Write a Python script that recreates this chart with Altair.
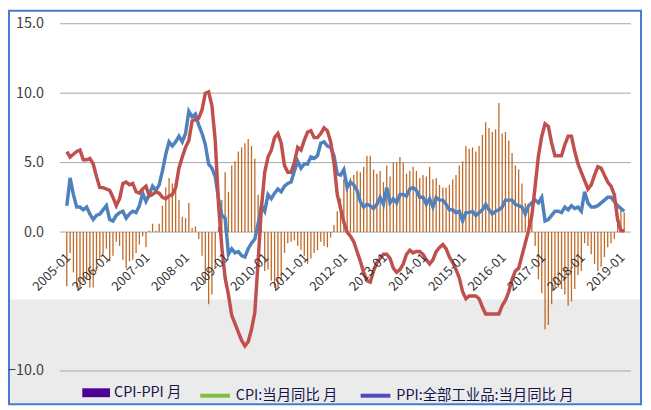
import json
import altair as alt
import pandas as pd

FONT = "Noto Sans CJK SC"

# ---- data (monthly, 2005-01 .. 2019-02) ----
month_labels = [f"{y}-{m:02d}" for y in range(2005, 2020) for m in range(1, 13)][:170]
tick_labels = [f"{y}-01" for y in range(2005, 2020)]

cpi = [1.9, 3.9, 2.7, 1.8, 1.8, 1.6, 1.8, 1.3, 0.9, 1.2, 1.3, 1.6,
       1.9, 0.9, 0.8, 1.2, 1.4, 1.5, 1.0, 1.3, 1.5, 1.4, 1.9, 2.8,
       2.2, 2.7, 3.3, 3.0, 3.4, 4.4, 5.6, 6.5, 6.2, 6.5, 6.9, 6.5,
       7.1, 8.7, 8.3, 8.5, 7.7, 7.1, 6.3, 4.9, 4.6, 4.0, 2.4, 1.2,
       1.0, -1.6, -1.2, -1.5, -1.4, -1.7, -1.8, -1.2, -0.8, -0.5, 0.6, 1.9,
       1.5, 2.7, 2.4, 2.8, 3.1, 2.9, 3.3, 3.5, 3.6, 4.4, 5.1, 4.6,
       4.9, 4.9, 5.4, 5.3, 5.5, 6.4, 6.5, 6.2, 6.1, 5.5, 4.2, 4.1,
       4.5, 3.2, 3.6, 3.4, 3.0, 2.2, 1.8, 2.0, 1.9, 1.7, 2.0, 2.5,
       2.0, 3.2, 2.1, 2.4, 2.1, 2.7, 2.7, 2.6, 3.1, 3.2, 3.0, 2.5,
       2.5, 2.0, 2.4, 1.8, 2.5, 2.3, 2.3, 2.0, 1.6, 1.6, 1.4, 1.5,
       0.8, 1.4, 1.4, 1.5, 1.2, 1.4, 1.6, 2.0, 1.6, 1.3, 1.5, 1.6,
       1.8, 2.3, 2.3, 2.3, 2.0, 1.9, 1.8, 1.3, 1.9, 2.1, 2.3, 2.1,
       2.5, 0.8, 0.9, 1.2, 1.5, 1.5, 1.4, 1.8, 1.6, 1.9, 1.7, 1.8,
       1.5, 2.9, 2.1, 1.8, 1.8, 1.9, 2.1, 2.3, 2.5, 2.5, 2.2, 1.9,
       1.7, 1.5]

ppi = [5.8, 5.4, 5.6, 5.8, 5.9, 5.2, 5.2, 5.3, 4.9, 4.0, 3.2, 3.2,
       3.1, 3.0, 2.5, 1.9, 2.4, 3.5, 3.6, 3.4, 3.5, 2.9, 2.8, 3.1,
       3.3, 2.6, 2.7, 2.9, 2.8, 2.5, 2.4, 2.6, 2.7, 3.2, 4.6, 5.4,
       6.1, 6.6, 8.0, 8.1, 8.2, 8.8, 10.0, 10.1, 9.1, 6.6, 2.0, -1.1,
       -3.3, -4.5, -6.0, -6.6, -7.2, -7.8, -8.2, -7.9, -7.0, -5.8, -2.1, 1.7,
       4.3, 5.4, 5.9, 6.8, 7.1, 6.4, 4.8, 4.3, 4.3, 5.0, 6.1, 5.9,
       6.6, 7.2, 7.3, 6.8, 6.8, 7.1, 7.5, 7.3, 6.5, 5.0, 2.7, 1.7,
       0.7, 0.0, -0.3, -0.7, -1.4, -2.1, -2.9, -3.5, -3.6, -2.8, -2.2, -1.9,
       -1.6, -1.6, -1.9, -2.6, -2.9, -2.7, -2.3, -1.6, -1.3, -1.5, -1.4, -1.4,
       -1.6, -2.0, -2.3, -2.0, -1.4, -1.1, -0.9, -1.2, -1.8, -2.2, -2.7, -3.3,
       -4.3, -4.8, -4.6, -4.6, -4.6, -4.8, -5.4, -5.9, -5.9, -5.9, -5.9, -5.9,
       -5.3, -4.9, -4.3, -3.4, -2.8, -2.6, -1.7, -0.8, 0.1, 1.2, 3.3, 5.5,
       6.9, 7.8, 7.6, 6.4, 5.5, 5.5, 5.5, 6.3, 6.9, 6.9, 5.8, 4.9,
       4.3, 3.7, 3.1, 3.4, 4.1, 4.7, 4.6, 4.1, 3.6, 3.3, 2.7, 0.9,
       0.1, 0.1]

spread = [-3.9, -1.5, -2.9, -4.0, -4.1, -3.6, -3.4, -4.0, -4.0, -2.8, -1.9, -1.6,
          -1.2, -2.1, -1.7, -0.7, -1.0, -2.0, -2.6, -2.1, -2.0, -1.5, -0.9, -0.3,
          -1.1, 0.1, 0.6, 0.1, 0.6, 1.9, 3.2, 3.9, 3.5, 3.3, 2.3, 1.1,
          1.0, 2.1, 0.3, 0.4, -0.5, -1.7, -3.7, -5.2, -4.5, -2.6, 0.4, 2.3,
          4.3, 2.9, 4.8, 5.1, 5.8, 6.1, 6.4, 6.7, 6.2, 5.3, 2.7, 0.2,
          -2.8, -2.7, -3.5, -4.0, -4.0, -3.5, -1.5, -0.8, -0.7, -0.6, -1.0, -1.3,
          -1.7, -2.3, -1.9, -1.5, -1.3, -0.7, -1.0, -1.1, -0.4, 0.5, 1.5, 2.4,
          3.8, 3.2, 3.9, 4.1, 4.4, 4.3, 4.7, 5.5, 5.5, 4.5, 4.2, 4.4,
          3.6, 4.8, 4.0, 5.0, 5.0, 5.4, 5.0, 4.2, 4.4, 4.7, 4.4, 3.9,
          4.1, 4.0, 4.7, 3.8, 3.9, 3.4, 3.2, 3.2, 3.4, 3.8, 4.1, 4.8,
          5.1, 6.2, 6.0, 6.1, 5.8, 6.2, 7.0, 7.9, 7.5, 7.2, 7.4, 9.3,
          7.1, 7.2, 6.6, 5.7, 4.8, 4.5, 3.5, 2.1, 1.8, 0.9, -1.0, -3.4,
          -4.4, -7.0, -6.7, -5.2, -4.0, -4.0, -4.1, -4.5, -5.3, -5.0, -4.1, -3.1,
          -2.8, -0.8, -1.0, -1.6, -2.3, -2.8, -2.5, -1.8, -1.1, -0.8, -0.5, 1.0,
          1.6, 1.4]

y_ticks = [15, 10, 5, 0, -10]
legend_labels = ["CPI-PPI 月", "CPI:当月同比 月", "PPI:全部工业品:当月同比 月"]

df = pd.DataFrame({"i": list(range(len(month_labels))), "month": month_labels,
                   "cpi": cpi, "ppi": ppi, "spread": spread})

W, H = 576, 350.5

xscale = alt.Scale(domain=[-0.5, len(month_labels) - 0.5], nice=False, zero=False)
yscale = alt.Scale(domain=[-10, 15], nice=False, zero=False)

x_enc = alt.X("i:Q", scale=xscale, title=None,
              axis=alt.Axis(values=list(range(0, len(month_labels), 12)),
                            labelExpr=json.dumps(tick_labels) + "[round(datum.value / 12)]",
                            labelAngle=-45, offset=-140.2, domain=False, ticks=False,
                            grid=False, labelOverlap=False, labelFont=FONT,
                            labelFontSize=13, labelColor="#333333", labelPadding=19,
                            labelOffset=-3, zindex=1))

def yenc(field):
    return alt.Y(field, scale=yscale, title=None,
                 axis=alt.Axis(values=y_ticks, format=".1f", grid=False, domain=False,
                               ticks=False, labelPadding=17, labelFont=FONT,
                               labelFontSize=14.5, labelColor="#404040", zindex=1))

base = alt.Chart(df)

band = alt.Chart(pd.DataFrame({"top": [-4.85]})).mark_rect(color="#ebebeb").encode(
    x=alt.value(-51), x2=alt.value(W + 10), y=yenc("top:Q"), y2=alt.value(H + 33))

grid = alt.Chart(pd.DataFrame({"v": y_ticks})).mark_rule(color="#a6a6a6", strokeWidth=1).encode(
    y=yenc("v:Q"))

bars = base.mark_bar(color="#bf6a28", size=1.3).encode(x=x_enc, y=yenc("spread:Q"), y2=alt.datum(0))

cpi_line = base.mark_line(color="#4f81bd", strokeWidth=3.5).encode(x=x_enc, y=yenc("cpi:Q"))
ppi_line = base.mark_line(color="#c0504d", strokeWidth=3.5).encode(x=x_enc, y=yenc("ppi:Q"))

leg_a = alt.Chart(pd.DataFrame({"s": legend_labels[:1]})).mark_rect().encode(
    x=alt.value(0), x2=alt.value(0), y=alt.value(0), y2=alt.value(0),
    fill=alt.Fill("s:N", scale=alt.Scale(domain=legend_labels[:1], range=["#4b0096"]),
                  legend=alt.Legend(orient="none", legendX=22.3, legendY=358.5, title=None,
                                    symbolType="M-1,-0.32H1V0.32H-1Z", symbolSize=784,
                                    symbolStrokeWidth=0, symbolOpacity=1,
                                    labelFont=FONT, labelFontSize=14.5, labelLimit=400,
                                    labelColor="#14144a", labelOffset=4)))

leg_b = alt.Chart(pd.DataFrame({"s": legend_labels[1:]})).mark_rule().encode(
    x=alt.value(0), x2=alt.value(0), y=alt.value(0), y2=alt.value(0),
    stroke=alt.Stroke("s:N", scale=alt.Scale(domain=legend_labels[1:], range=["#7dc142", "#4b4bc6"]),
                      legend=alt.Legend(orient="none", direction="horizontal", legendX=139.3,
                                        legendY=358.5, title=None, symbolType="stroke",
                                        symbolSize=900, symbolStrokeWidth=4, symbolOpacity=1,
                                        columnPadding=15, labelFont=FONT, labelFontSize=14.5,
                                        labelLimit=400, labelColor="#14144a", labelOffset=4)))

frame = alt.Chart(pd.DataFrame({"a": [0]})).mark_rect(
    color="#ffffff", fillOpacity=0, stroke="#4a7bd0", strokeWidth=2).encode(
    x=alt.value(-51.7), x2=alt.value(W + 10.3), y=alt.value(-13), y2=alt.value(H + 33.5))

chart = alt.layer(band, grid, bars, cpi_line, ppi_line, leg_a, leg_b, frame).resolve_scale(
    fill="independent", stroke="independent").properties(
    width=W, height=H,
    padding={"left": 52.7, "top": 14, "right": 12.3, "bottom": 34.5},
    autosize=alt.AutoSizeParams(type="none"),
    background="#ffffff",
).configure_view(strokeWidth=0)

chart.save("out.html", embed_options={"renderer": "svg", "actions": False})
